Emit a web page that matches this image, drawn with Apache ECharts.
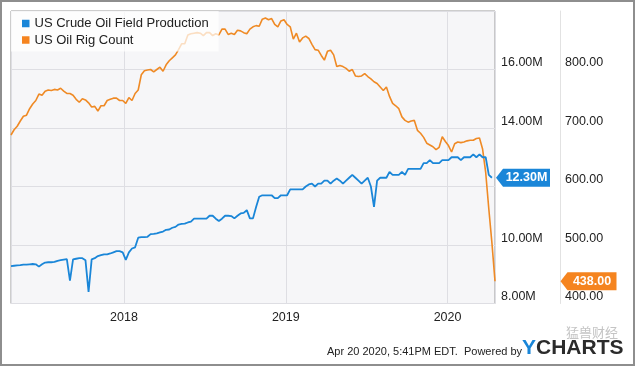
<!DOCTYPE html>
<html>
<head>
<meta charset="utf-8">
<script src="https://cdn.jsdelivr.net/npm/echarts@6/dist/echarts.min.js"></script>
<style>
html,body{margin:0;padding:0;background:#fff;}
#chart{width:635px;height:366px;}
</style>
</head>
<body>
<div id="chart"></div>
<script>
// ---- data (weekly, Fridays) ----
const firstWeek = '2017-04-21';
const prodName = 'US Crude Oil Field Production';
const rigName = 'US Oil Rig Count';
// US crude oil field production, million barrels per day
const prod2017 = [9.28,9.29,9.30,9.31,9.33,9.33,9.34,9.35,9.34,9.26,9.34,9.40,9.41,9.41,9.42,9.46,9.48,9.50,9.52,8.78,9.51,9.53,9.55,9.55,9.48,8.40,9.51,9.55,9.62,9.65,9.68,9.68,9.71,9.75,9.79,9.79,9.75];
const prod2018 = [9.49,9.75,9.88,9.92,10.25,10.27,10.27,10.28,10.37,10.38,10.40,10.43,10.46,10.52,10.53,10.59,10.62,10.70,10.72,10.73,10.77,10.80,10.90,10.90,10.90,10.90,10.90,11.00,11.00,10.90,10.82,10.90,11.00,11.00,10.99,10.91,11.00,11.08,11.10,11.19,10.91,10.91,11.30,11.65,11.70,11.70,11.70,11.70,11.60,11.60,11.70,11.70];
const prod2019 = [11.70,11.90,11.90,11.90,11.90,11.90,12.00,12.07,12.10,12.00,12.10,12.10,12.20,12.20,12.10,12.20,12.27,12.20,12.10,12.20,12.30,12.40,12.30,12.20,12.10,12.20,12.30,12.00,11.30,12.20,12.30,12.30,12.30,12.50,12.40,12.40,12.40,12.50,12.40,12.60,12.60,12.60,12.60,12.60,12.80,12.80,12.90,12.80,12.80,12.80,12.90,12.90];
const prod2020 = [12.90,13.00,13.00,13.00,12.90,13.00,13.00,13.00,13.10,13.00,13.10,13.00,13.00,12.40,12.30];
// US oil rig count
const rigs2017 = [688,697,703,712,720,722,733,741,747,758,756,763,765,764,766,765,768,763,759,759,756,749,744,750,748,743,736,737,729,738,738,747,749,751,751,747,747];
const rigs2018 = [742,752,747,759,765,791,798,799,800,796,800,804,797,808,815,820,825,834,844,844,859,861,862,863,862,858,863,863,858,861,859,869,869,860,862,860,867,866,863,861,869,873,875,874,886,888,885,887,877,873,883,885];
const rigs2019 = [877,873,852,862,847,854,857,853,843,834,833,824,816,831,833,825,805,807,805,802,797,800,789,788,789,793,788,784,779,776,770,764,770,754,742,738,733,719,713,710,712,713,696,691,684,674,671,668,663,667,685,677];
const rigs2020 = [670,659,673,676,675,676,678,679,679,682,683,664,624,562,504,438];
// axis ticks
const prodTicks = [8, 10, 12, 14, 16, 18];
const rigTicks = [400, 500, 600, 700, 800, 900];
const footerText = 'Apr 20 2020, 5:41PM EDT.  Powered by';
const watermark = '猛兽财经';

const prodVals = [].concat(prod2017, prod2018, prod2019, prod2020);
const rigVals = [].concat(rigs2017, rigs2018, rigs2019, rigs2020);
const t0 = Date.parse(firstWeek + 'T00:00:00');
const WEEK = 7 * 86400000;
const prodData = prodVals.map((v, i) => [t0 + i * WEEK, v]);
const rigData = rigVals.map((v, i) => [t0 + i * WEEK, v]);
const lastProd = prodData[prodData.length - 1];
const lastRig = rigData[rigData.length - 1];

const BLUE = '#1a86d8';
const ORANGE = '#f5841f';
const FONT = '"Liberation Sans", Arial, sans-serif';

const chart = echarts.init(document.getElementById('chart'), null, {renderer: 'canvas'});

function tagMark(coord, fmt, color, offsetX, w) {
  return {
    symbol: 'path://M0,9 L7,0 L' + w + ',0 L' + w + ',18 L7,18 Z',
    symbolSize: [w, 18],
    symbolKeepAspect: false,
    symbolOffset: [offsetX, 0],
    silent: true,
    itemStyle: {color: color},
    label: {
      show: true, position: 'inside', offset: [3.5, 0],
      color: '#fff', fontWeight: 'bold', fontSize: 12.5, fontFamily: FONT,
      formatter: fmt
    },
    data: [{coord: coord, value: coord[1]}]
  };
}

const option = {
  animation: false,
  backgroundColor: '#fff',
  textStyle: {fontFamily: FONT},
  grid: {left: 11, top: 11, right: 140, bottom: 62.5, show: true,
         backgroundColor: '#f6f6f8', borderColor: '#9a9a9a', borderWidth: 1},
  legend: {
    orient: 'vertical', left: 11, top: 11,
    padding: [6, 10, 5, 11], itemGap: 3.5,
    backgroundColor: 'rgba(255,255,255,0.72)',
    itemWidth: 7.5, itemHeight: 7.5, icon: 'rect',
    textStyle: {fontSize: 13, color: '#222', fontFamily: FONT},
    data: [{name: prodName, itemStyle: {color: BLUE}}, {name: rigName, itemStyle: {color: ORANGE}}]
  },
  xAxis: {
    type: 'time',
    min: prodData[0][0], max: lastRig[0],
    minInterval: 365 * 86400000,
    splitNumber: 3,
    axisLine: {show: false}, axisTick: {show: false},
    splitLine: {show: true, lineStyle: {color: '#dedee3', width: 1}},
    axisLabel: {
      margin: 7.5, fontSize: 12.5, color: '#222', fontFamily: FONT,
      showMinLabel: false, showMaxLabel: false,
      formatter: v => String(new Date(v).getFullYear())
    }
  },
  yAxis: [
    {
      type: 'value', position: 'right', offset: 0,
      min: prodTicks[0], max: prodTicks[prodTicks.length - 1], interval: prodTicks[1] - prodTicks[0],
      axisLine: {show: false}, axisTick: {show: false},
      splitLine: {show: true, lineStyle: {color: '#dedee3', width: 1}},
      axisLabel: {margin: 6, fontSize: 12.5, color: '#222', fontFamily: FONT,
                  verticalAlign: 'bottom', showMaxLabel: false,
                  formatter: v => v.toFixed(2) + 'M'}
    },
    {
      type: 'value', position: 'right', offset: 65,
      min: rigTicks[0], max: rigTicks[rigTicks.length - 1], interval: rigTicks[1] - rigTicks[0],
      axisLine: {show: true, lineStyle: {color: '#e2e2e2', width: 1}}, axisTick: {show: false},
      splitLine: {show: false},
      axisLabel: {margin: 5, fontSize: 12.5, color: '#222', fontFamily: FONT,
                  verticalAlign: 'bottom', showMaxLabel: false,
                  formatter: v => v.toFixed(2)}
    }
  ],
  series: [
    {
      name: prodName, type: 'line', yAxisIndex: 0, data: prodData,
      showSymbol: false, symbol: 'none', z: 3,
      lineStyle: {color: BLUE, width: 1.8}, itemStyle: {color: BLUE},
      markPoint: tagMark(lastProd, p => p.value.toFixed(2) + 'M', BLUE, 31, 54)
    },
    {
      name: rigName, type: 'line', yAxisIndex: 1, data: rigData,
      showSymbol: false, symbol: 'none', z: 2,
      lineStyle: {color: '#ef8a25', width: 1.6}, itemStyle: {color: ORANGE},
      markPoint: tagMark(lastRig, p => p.value.toFixed(2), ORANGE, 93, 56)
    }
  ],
  graphic: [
    {type: 'text', left: 327, top: 346, silent: true,
     style: {text: footerText, fontSize: 11, fill: '#222', fontFamily: FONT}},
    {type: 'text', left: 522, top: 338, silent: true,
     style: {text: '{y|Y}{c|CHARTS}', fontFamily: FONT,
             rich: {y: {fontSize: 21, fontWeight: 'bold', fill: '#1a86d8'},
                    c: {fontSize: 21, fontWeight: 'bold', fill: '#2b2b2b'}}}},
    {type: 'text', left: 566, top: 326, silent: true,
     style: {text: watermark, fontSize: 13, fill: '#c4c4c4', fontFamily: '"Noto Sans CJK SC", sans-serif'}},
    {type: 'rect', silent: true, z: 100,
     shape: {x: 1, y: 1, width: 633, height: 364},
     style: {fill: 'none', stroke: '#8e8e8e', lineWidth: 2}}
  ]
};
chart.setOption(option);

// place the value tags so their tips touch their axes
const gridRight = 635 - 140;
const pProd = chart.convertToPixel({seriesIndex: 0}, lastProd);
const pRig = chart.convertToPixel({seriesIndex: 1}, lastRig);
chart.setOption({series: [
  {markPoint: {symbolOffset: [gridRight + 1 - pProd[0] + 27, 0]}},
  {markPoint: {symbolOffset: [gridRight + 65.5 - pRig[0] + 28, 0]}}
]});
</script>
</body>
</html>
